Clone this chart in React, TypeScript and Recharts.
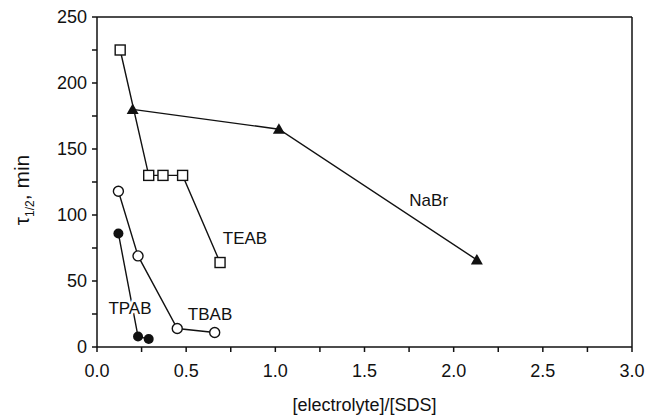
import {
  ScatterChart,
  Scatter,
  XAxis,
  YAxis,
  ReferenceLine,
  ReferenceDot,
} from "recharts";

const teab = [
  { x: 0.13, y: 225 },
  { x: 0.29, y: 130 },
  { x: 0.37, y: 130 },
  { x: 0.48, y: 130 },
  { x: 0.69, y: 64 },
];
const nabr = [
  { x: 0.2, y: 180 },
  { x: 1.02, y: 165 },
  { x: 2.13, y: 66 },
];
const tbab = [
  { x: 0.12, y: 118 },
  { x: 0.23, y: 69 },
  { x: 0.45, y: 14 },
  { x: 0.66, y: 11 },
];
const tpab = [
  { x: 0.12, y: 86 },
  { x: 0.23, y: 8 },
  { x: 0.29, y: 6 },
];

const xTicks = [0, 0.25, 0.5, 0.75, 1, 1.25, 1.5, 1.75, 2, 2.25, 2.5, 2.75, 3];
const yTicks = [0, 25, 50, 75, 100, 125, 150, 175, 200, 225, 250];

const seriesLabels = [
  { name: "TEAB", x: 0.83, y: 82.5 },
  { name: "NaBr", x: 1.86, y: 111 },
  { name: "TBAB", x: 0.634, y: 25 },
  { name: "TPAB", x: 0.185, y: 29.5 },
];

const INK = "#111";
const FONT = "'Liberation Sans', Arial, sans-serif";

const square = (p: any) => (
  <rect x={p.cx - 5} y={p.cy - 5} width={10} height={10} fill="#fff" stroke={INK} strokeWidth={1.4} />
);
const openCircle = (p: any) => <circle cx={p.cx} cy={p.cy} r={5} fill="#fff" stroke={INK} strokeWidth={1.4} />;
const dot = (p: any) => <circle cx={p.cx} cy={p.cy} r={5} fill={INK} />;
const triangle = (p: any) => (
  <polygon
    points={`${p.cx},${p.cy - 6} ${p.cx - 6},${p.cy + 4.5} ${p.cx + 6},${p.cy + 4.5}`}
    fill={INK}
  />
);

const fmtX = (v: number) => (v * 2 === Math.round(v * 2) ? v.toFixed(1) : "");
const fmtY = (v: number) => (v % 50 === 0 ? String(v) : "");

export default function App() {
  return (
    <div style={{ position: "absolute", left: 0, top: 0, width: 647, height: 419, background: "#fff" }}>
      <ScatterChart width={647} height={419} margin={{ top: 17, right: 15, bottom: 20, left: 37 }}>
        <XAxis
          type="number"
          dataKey="x"
          domain={[0, 3]}
          ticks={xTicks}
          tickFormatter={fmtX}
          interval={0}
          stroke={INK}
          strokeWidth={1.5}
          tickSize={5}
          tickMargin={12}
          height={52}
          tick={{ fontSize: 18, fill: INK, fontFamily: FONT }}
          label={{
            value: "[electrolyte]/[SDS]",
            position: "insideBottom",
            offset: -12,
            style: { fontSize: 18, fill: INK, fontFamily: FONT },
          }}
        />
        <YAxis
          type="number"
          dataKey="y"
          domain={[0, 250]}
          ticks={yTicks}
          tickFormatter={fmtY}
          interval={0}
          stroke={INK}
          strokeWidth={1.5}
          tickSize={5}
          tickMargin={5}
          width={60}
          tick={{ fontSize: 18, fill: INK, fontFamily: FONT }}
          label={{
            content: () => (
              <text
                x={29}
                y={190}
                transform="rotate(-90 29 190)"
                textAnchor="middle"
                fontSize={21}
                fill={INK}
                fontFamily={FONT}
              >
                τ<tspan fontSize={12} dy={5}>1/2</tspan>
                <tspan dy={-5}>, min</tspan>
              </text>
            ),
          }}
        />
        <ReferenceLine y={250} stroke={INK} strokeWidth={1.5} />
        <ReferenceLine x={3} stroke={INK} strokeWidth={1.5} />
        <Scatter data={teab} line={{ stroke: INK, strokeWidth: 1.4 }} lineType="joint" shape={square} isAnimationActive={false} />
        <Scatter data={nabr} line={{ stroke: INK, strokeWidth: 1.4 }} lineType="joint" shape={triangle} isAnimationActive={false} />
        <Scatter data={tbab} line={{ stroke: INK, strokeWidth: 1.4 }} lineType="joint" shape={openCircle} isAnimationActive={false} />
        <Scatter data={tpab} line={{ stroke: INK, strokeWidth: 1.4 }} lineType="joint" shape={dot} isAnimationActive={false} />
        {seriesLabels.map((l) => (
          <ReferenceDot
            key={l.name}
            x={l.x}
            y={l.y}
            r={0}
            shape={(p: any) => (
              <text
                x={p.cx}
                y={p.cy}
                textAnchor="middle"
                dominantBaseline="central"
                fontSize={17}
                fill={INK}
                fontFamily={FONT}
                stroke="#fff"
                strokeWidth={5}
                paintOrder="stroke"
              >
                {l.name}
              </text>
            )}
          />
        ))}
      </ScatterChart>
    </div>
  );
}
